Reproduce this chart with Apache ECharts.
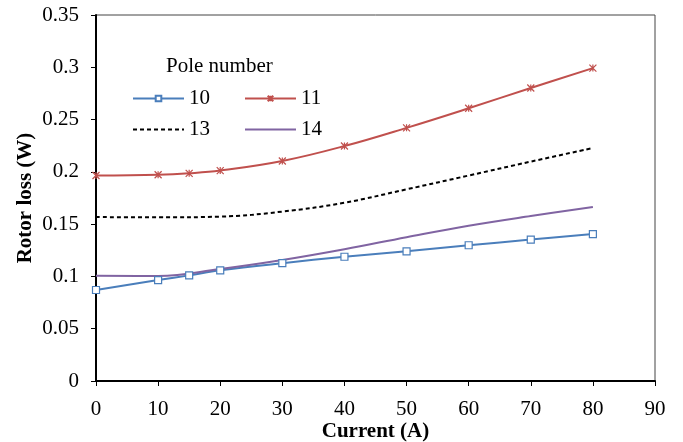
<!DOCTYPE html>
<html>
<head>
<meta charset="utf-8">
<script src="https://cdn.jsdelivr.net/npm/echarts@6/dist/echarts.min.js"></script>
<style>
html,body{margin:0;padding:0;background:#fff;}
#chart{width:683px;height:442px;}
</style>
</head>
<body>
<div id="chart"></div>
<script>
// Data
const xMarked = [0, 10, 15, 20, 30, 40, 50, 60, 70, 80];
const xPlain = [0, 10, 20, 30, 40, 50, 60, 70, 80];
const pole10 = [0.087, 0.0965, 0.101, 0.1058, 0.1127, 0.1188, 0.124, 0.1298, 0.1352, 0.1405];
const pole11 = [0.1965, 0.1972, 0.1986, 0.2012, 0.2104, 0.2247, 0.2421, 0.2608, 0.2802, 0.2992];
const pole13 = [0.1568, 0.1565, 0.1572, 0.162, 0.1705, 0.1833, 0.1965, 0.2098, 0.2228];
const pole14 = [0.1007, 0.1004, 0.1071, 0.1157, 0.126, 0.1375, 0.1485, 0.1578, 0.1664];
const seriesNames = ['10', '11', '13', '14'];

function pairs(xs, ys) { return xs.map((x, i) => [x, ys[i]]); }

const FONT = 'Liberation Serif';
const FS = 21;
const chart = echarts.init(document.getElementById('chart'), null, {renderer: 'canvas'});
const starPath = 'path://M0,0L10,10M10,0L0,10M5,0L5,10';

function legendAt(name, left, top) {
  return {
    data: [name], left: left, top: top, itemWidth: 51, itemHeight: 7, padding: 0,
    textStyle: {fontFamily: FONT, fontSize: FS, color: '#000'},
    selectedMode: false
  };
}

chart.setOption({
  animation: false,
  backgroundColor: '#fff',
  title: {
    text: 'Pole number', left: 166, top: 56, padding: 0,
    textStyle: {fontFamily: FONT, fontSize: FS, fontWeight: 'normal', color: '#000'}
  },
  legend: [
    legendAt(seriesNames[0], 132, 88),
    legendAt(seriesNames[1], 244, 88),
    legendAt(seriesNames[2], 132, 119),
    legendAt(seriesNames[3], 244, 119)
  ],
  grid: {left: 96, right: 28, top: 15, bottom: 61, show: true, borderColor: '#444', borderWidth: 1,
         containLabel: false, outerBoundsMode: 'none'},
  xAxis: {
    type: 'value', min: 0, max: 90, interval: 10,
    name: 'Current (A)', nameLocation: 'middle', nameGap: 40, nameMoveOverlap: false,
    nameTextStyle: {fontFamily: FONT, fontSize: FS, fontWeight: 'bold', color: '#000'},
    axisLine: {show: true, lineStyle: {color: '#000', width: 2}},
    axisTick: {show: true, inside: false, length: 5, lineStyle: {color: '#000', width: 1}},
    axisLabel: {fontFamily: FONT, fontSize: FS, color: '#000', margin: 18},
    splitLine: {show: false}
  },
  yAxis: {
    type: 'value', min: 0, max: 0.35, interval: 0.05,
    name: 'Rotor loss (W)', nameLocation: 'middle', nameGap: 60, nameMoveOverlap: false,
    nameTextStyle: {fontFamily: FONT, fontSize: FS, fontWeight: 'bold', color: '#000'},
    axisLine: {show: true, lineStyle: {color: '#000', width: 2}},
    axisTick: {show: true, inside: false, length: 5, lineStyle: {color: '#000', width: 1}},
    axisLabel: {fontFamily: FONT, fontSize: FS, color: '#000', margin: 17},
    splitLine: {show: false}
  },
  series: [
    {
      name: seriesNames[0], type: 'line', smooth: 0.4,
      data: pairs(xMarked, pole10),
      symbol: 'rect', symbolSize: 7, showSymbol: true,
      itemStyle: {color: '#fff', borderColor: '#4A7EBB', borderWidth: 1.2},
      lineStyle: {color: '#4A7EBB', width: 2}
    },
    {
      name: seriesNames[1], type: 'line', smooth: 0.4,
      data: pairs(xMarked, pole11),
      symbol: starPath, symbolSize: 7, showSymbol: true,
      itemStyle: {color: '#C0504D', borderColor: '#C0504D', borderWidth: 1.2},
      lineStyle: {color: '#C0504D', width: 2}
    },
    {
      name: seriesNames[2], type: 'line', smooth: 0.4,
      data: pairs(xPlain, pole13),
      symbol: 'circle', symbolSize: 0, showSymbol: false,
      itemStyle: {color: 'rgba(0,0,0,0)', borderWidth: 0},
      lineStyle: {color: '#000', width: 2, type: [4, 3]}
    },
    {
      name: seriesNames[3], type: 'line', smooth: 0.4,
      data: pairs(xPlain, pole14),
      symbol: 'circle', symbolSize: 0, showSymbol: false,
      itemStyle: {color: 'rgba(0,0,0,0)', borderWidth: 0},
      lineStyle: {color: '#8064A2', width: 2}
    }
  ]
});
</script>
</body>
</html>
